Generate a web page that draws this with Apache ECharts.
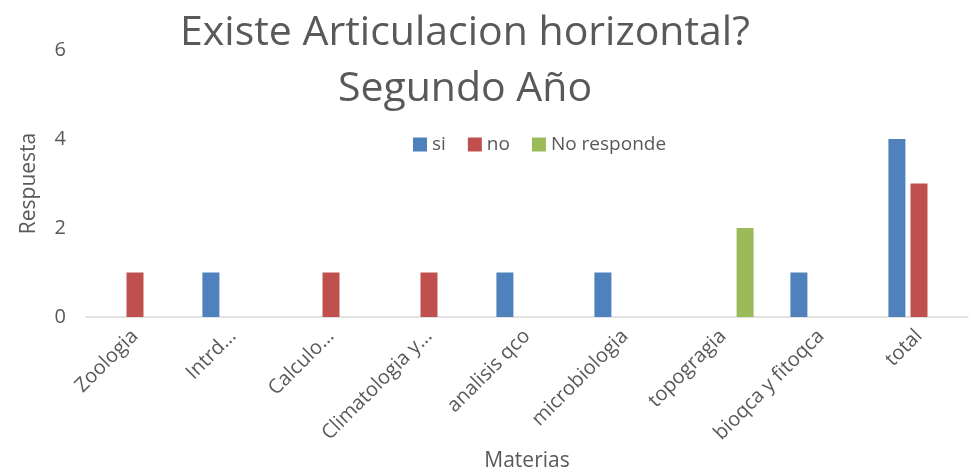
<!DOCTYPE html>
<html style="height: 100%">
<head>
<meta charset="utf-8">
<script src="https://cdn.jsdelivr.net/npm/echarts@6/dist/echarts.min.js"></script>
</head>
<body style="height: 100%; margin: 0; background: #fff">
<div id="container" style="width: 979px; height: 471px"></div>
<script type="text/javascript">
var materias = ['Zoologia', 'Intrd...', 'Calculo...', 'Climatologia y...', 'analisis qco', 'microbiologia', 'topogragia', 'bioqca y fitoqca', 'total'];
var si = [0, 1, 0, 0, 1, 1, 0, 1, 4];
var no = [1, 0, 1, 1, 0, 0, 0, 0, 3];
var noResponde = [0, 0, 0, 0, 0, 0, 2, 0, 0];
var yTicks = [0, 2, 4, 6];

var font = '"Open Sans", "Noto Sans", sans-serif';
var gris = '#595959';

var myChart = echarts.init(document.getElementById('container'));

function nz(arr) {
    // zero values draw nothing, as in the original
    return arr.map(function (v) { return v === 0 ? null : v; });
}

var option = {
    animation: false,
    title: {
        text: 'Existe Articulacion horizontal?\nSegundo Año',
        left: 460,
        textAlign: 'center',
        top: 0,
        textStyle: {
            fontFamily: font,
            fontSize: 41,
            fontWeight: 'normal',
            color: gris,
            lineHeight: 56
        }
    },
    legend: {
        left: 408,
        top: 130,
        itemWidth: 14,
        itemHeight: 14,
        itemGap: 22,
        icon: 'rect',
        textStyle: { fontFamily: font, fontSize: 19, color: gris },
        data: ['si', 'no', 'No responde']
    },
    grid: {
        left: 86,
        right: 11,
        top: 50,
        bottom: 154,
        outerBoundsMode: 'none',
        containLabel: false
    },
    xAxis: {
        type: 'category',
        data: materias,
        name: 'Materias',
        nameLocation: 'middle',
        nameGap: 126,
        nameTextStyle: { fontFamily: font, fontSize: 21, color: gris },
        axisLine: { lineStyle: { color: '#d9d9d9', width: 1.5 } },
        axisTick: { length: 6, lineStyle: { color: '#d9d9d9' } },
        axisLabel: {
            rotate: 45,
            interval: 0,
            margin: 16,
            fontFamily: font,
            fontSize: 20,
            color: gris
        }
    },
    yAxis: {
        type: 'value',
        min: 0,
        max: yTicks[yTicks.length - 1],
        interval: 2,
        name: 'Respuesta',
        nameLocation: 'middle',
        nameGap: 46,
        nameTextStyle: { fontFamily: font, fontSize: 21, color: gris },
        splitLine: { show: false },
        axisLine: { show: false },
        axisTick: { show: false },
        axisLabel: { fontFamily: font, fontSize: 20, color: gris, margin: 20 }
    },
    series: [
        {
            name: 'si',
            type: 'bar',
            data: nz(si),
            barWidth: 17,
            barGap: '30%',
            barCategoryGap: '38%',
            itemStyle: { color: '#4F81BD' }
        },
        {
            name: 'no',
            type: 'bar',
            data: nz(no),
            barWidth: 17,
            barGap: '30%',
            itemStyle: { color: '#C0504D' }
        },
        {
            name: 'No responde',
            type: 'bar',
            data: nz(noResponde),
            barWidth: 17,
            barGap: '30%',
            itemStyle: { color: '#9BBB59' }
        }
    ]
};

myChart.setOption(option);
</script>
</body>
</html>
